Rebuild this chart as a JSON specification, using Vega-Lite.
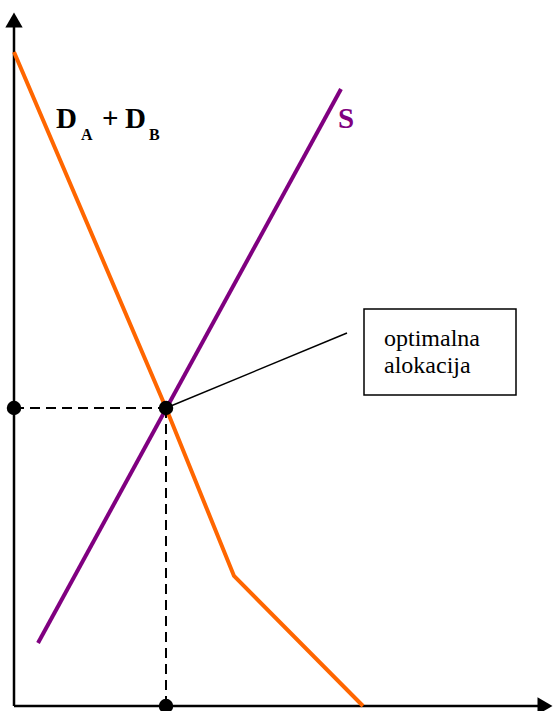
{
  "$schema": "https://vega.github.io/schema/vega-lite/v6.json",
  "width": 539,
  "height": 706,
  "autosize": {"type": "none"},
  "padding": {"left": 14, "top": 0, "right": 0, "bottom": 5},
  "background": "white",
  "config": {"view": {"stroke": null}},
  "datasets": {
    "demand": [
      {"q": 0, "p": 654},
      {"q": 152, "p": 298},
      {"q": 220, "p": 130},
      {"q": 349, "p": 0}
    ],
    "supply": [
      {"q": 24, "p": 63},
      {"q": 327, "p": 617}
    ],
    "axes": [
      {"x": 0, "y": 0, "x2": 0, "y2": 690},
      {"x": 0, "y": 0, "x2": 531, "y2": 0}
    ],
    "dashed": [
      {"x": 0, "y": 298, "x2": 152, "y2": 298},
      {"x": 152, "y": 298, "x2": 152, "y2": 0}
    ],
    "pointer": [
      {"x": 152, "y": 298, "x2": 333, "y2": 373}
    ],
    "arrows": [
      {"x": 0, "y": 686, "shape": "triangle-up"},
      {"x": 531, "y": 0, "shape": "triangle-right"}
    ],
    "dots": [
      {"x": 0, "y": 298},
      {"x": 152, "y": 298},
      {"x": 152, "y": 0}
    ],
    "box": [
      {"x": 350, "x2": 502, "y": 311, "y2": 397}
    ],
    "bigLabels": [
      {"x": 42, "y": 578, "t": "D"},
      {"x": 88, "y": 578, "t": "+"},
      {"x": 111, "y": 578, "t": "D"}
    ],
    "subLabels": [
      {"x": 67, "y": 566, "t": "A"},
      {"x": 135, "y": 566, "t": "B"}
    ],
    "sLabel": [
      {"x": 324, "y": 578, "t": "S"}
    ],
    "boxText": [
      {"x": 370, "y": 360, "t": "optimalna"},
      {"x": 370, "y": 333, "t": "alokacija"}
    ]
  },
  "encoding": {
    "x": {"field": "x", "type": "quantitative", "scale": {"domain": [0, 539]}, "axis": null},
    "y": {"field": "y", "type": "quantitative", "scale": {"domain": [0, 706]}, "axis": null}
  },
  "layer": [
    {
      "data": {"name": "box"},
      "mark": {"type": "rect", "fill": "white", "stroke": "black", "strokeWidth": 1.5},
      "encoding": {"x2": {"field": "x2"}, "y2": {"field": "y2"}}
    },
    {
      "data": {"name": "axes"},
      "mark": {"type": "rule", "color": "black", "strokeWidth": 2.5},
      "encoding": {"x2": {"field": "x2"}, "y2": {"field": "y2"}}
    },
    {
      "data": {"name": "dashed"},
      "mark": {"type": "rule", "color": "black", "strokeWidth": 2, "strokeDash": [10, 6]},
      "encoding": {"x2": {"field": "x2"}, "y2": {"field": "y2"}}
    },
    {
      "data": {"name": "pointer"},
      "mark": {"type": "rule", "color": "black", "strokeWidth": 1.5},
      "encoding": {"x2": {"field": "x2"}, "y2": {"field": "y2"}}
    },
    {
      "data": {"name": "demand"},
      "mark": {"type": "line", "color": "#FF6600", "strokeWidth": 4, "strokeJoin": "miter"},
      "encoding": {
        "x": {"field": "q", "type": "quantitative", "scale": {"domain": [0, 539]}, "axis": null},
        "y": {"field": "p", "type": "quantitative", "scale": {"domain": [0, 706]}, "axis": null}
      }
    },
    {
      "data": {"name": "supply"},
      "mark": {"type": "line", "color": "#800080", "strokeWidth": 4},
      "encoding": {
        "x": {"field": "q", "type": "quantitative", "scale": {"domain": [0, 539]}, "axis": null},
        "y": {"field": "p", "type": "quantitative", "scale": {"domain": [0, 706]}, "axis": null}
      }
    },
    {
      "data": {"name": "arrows"},
      "mark": {"type": "point", "filled": true, "color": "black", "size": 300, "opacity": 1},
      "encoding": {"shape": {"field": "shape", "type": "nominal", "scale": null}}
    },
    {
      "data": {"name": "dots"},
      "mark": {"type": "circle", "color": "black", "size": 210, "opacity": 1}
    },
    {
      "data": {"name": "bigLabels"},
      "mark": {"type": "text", "align": "left", "baseline": "alphabetic", "font": "Liberation Serif", "fontWeight": "bold", "fontSize": 29, "color": "black"},
      "encoding": {"text": {"field": "t"}}
    },
    {
      "data": {"name": "subLabels"},
      "mark": {"type": "text", "align": "left", "baseline": "alphabetic", "font": "Liberation Serif", "fontWeight": "bold", "fontSize": 16, "color": "black"},
      "encoding": {"text": {"field": "t"}}
    },
    {
      "data": {"name": "sLabel"},
      "mark": {"type": "text", "align": "left", "baseline": "alphabetic", "font": "Liberation Serif", "fontWeight": "bold", "fontSize": 29, "color": "#800080"},
      "encoding": {"text": {"field": "t"}}
    },
    {
      "data": {"name": "boxText"},
      "mark": {"type": "text", "align": "left", "baseline": "alphabetic", "font": "Liberation Serif", "fontSize": 24, "color": "black"},
      "encoding": {"text": {"field": "t"}}
    }
  ]
}
